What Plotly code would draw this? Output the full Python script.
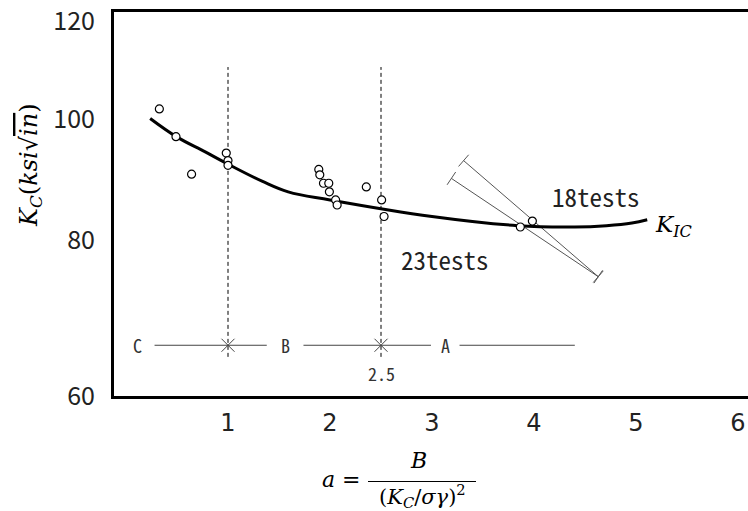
import math
import plotly.graph_objects as go

# ---------------- data ----------------
# smooth Kc trend curve (a, Kc)
curve_a = [0.237, 0.493, 0.777, 1.0, 1.339, 1.59, 2.0, 3.0, 3.84, 4.40, 4.71, 4.96, 5.11]
curve_kc = [100.2, 96.9, 94.2, 92.1, 89.2, 87.5, 86.2, 83.6, 82.2, 82.0, 82.2, 82.6, 83.1]

# individual test results
test_a = [0.327, 0.49, 0.643, 0.983, 1.0, 1.0, 1.89, 1.90, 1.936, 1.988, 1.994,
          2.055, 2.07, 2.356, 2.506, 2.53, 3.866, 3.984]
test_kc = [102.0, 96.9, 90.4, 94.0, 92.7, 91.9, 91.2, 90.3, 88.9, 88.9, 87.5,
           86.2, 85.4, 88.3, 86.2, 83.6, 82.0, 82.9]

# scatter bands of the two test series
band18_a = [3.31, 4.63]
band18_kc = [92.7, 74.8]
band23_a = [3.19, 4.63]
band23_kc = [89.7, 74.8]

# regime boundaries and regime names
zone_bounds = [1.0, 2.5]
zone_names = ["C", "B", "A"]
zone_name_a = [0.115, 1.566, 3.137]
zone_level_kc = 65.9
# dimension-line pieces between the regime labels
zone_segments = [(0.28, 1.0), (1.0, 1.38), (1.74, 2.5), (2.5, 2.99), (3.27, 4.40)]

x_ticks = [1, 2, 3, 4, 5, 6]
y_ticks = [60, 80, 100, 120]

# ---------------- layout geometry ----------------
W, H = 748, 511
ML, MR, MT, MB = 114, 0, 12, 115
PW, PH = W - ML - MR, H - MT - MB
X_RANGE = [-0.1176, 6.098]
Y_RANGE = [60.0, 122.0]
LY0, LY1 = math.log10(Y_RANGE[0]), math.log10(Y_RANGE[1])


def to_px(a, kc):
    x = (a - X_RANGE[0]) / (X_RANGE[1] - X_RANGE[0]) * PW
    y = (LY1 - math.log10(kc)) / (LY1 - LY0) * PH
    return x, y


def cap_angle(xs, ys):
    x0, y0 = to_px(xs[0], ys[0])
    x1, y1 = to_px(xs[1], ys[1])
    return math.degrees(math.atan2(y1 - y0, x1 - x0))


def paper_x(px):
    return (px - ML) / PW


def paper_y(py):
    return (MT + PH - py) / PH


MONO = "Noto Sans Mono CJK KR, DejaVu Sans Mono, monospace"
SERIF = "DejaVu Serif, serif"

fig = go.Figure()

# regime boundary lines
for b in zone_bounds:
    fig.add_trace(go.Scatter(
        x=[b, b], y=[64.5, 110.2], mode="lines",
        line=dict(color="black", width=1, dash="4px,3px"),
        hoverinfo="skip", showlegend=False))

# dimension line C | B | A
seg_x, seg_y = [], []
for x0, x1 in zone_segments:
    seg_x += [x0, x1, None]
    seg_y += [zone_level_kc, zone_level_kc, None]
fig.add_trace(go.Scatter(
    x=seg_x, y=seg_y, mode="lines",
    line=dict(color="#444444", width=1),
    hoverinfo="skip", showlegend=False))
fig.add_trace(go.Scatter(
    x=zone_bounds, y=[zone_level_kc] * len(zone_bounds), mode="markers",
    marker=dict(symbol="x-thin", size=13, line=dict(color="#444444", width=1)),
    hoverinfo="skip", showlegend=False))

# test bands with end caps
for xs, ys in [(band18_a, band18_kc), (band23_a, band23_kc)]:
    ang = cap_angle(xs, ys)
    fig.add_trace(go.Scatter(
        x=xs, y=ys, mode="lines+markers",
        line=dict(color="#555555", width=1),
        marker=dict(symbol="line-ns", size=11, angle=ang,
                    line=dict(color="#555555", width=1)),
        hoverinfo="skip", showlegend=False))

# trend curve
fig.add_trace(go.Scatter(
    x=curve_a, y=curve_kc, mode="lines",
    line=dict(color="black", width=3, shape="spline", smoothing=1.1),
    hoverinfo="skip", showlegend=False))

# test points
fig.add_trace(go.Scatter(
    x=test_a, y=test_kc, mode="markers",
    marker=dict(symbol="circle", size=8, color="white",
                line=dict(color="black", width=1.2)),
    showlegend=False))

annotations = []
ly = math.log10(zone_level_kc)
for name, xa in zip(zone_names, zone_name_a):
    annotations.append(dict(
        x=xa, y=ly, xref="x", yref="y", text=name, showarrow=False,
        font=dict(family=MONO, size=18, color="#333333")))

annotations.append(dict(
    x=zone_bounds[1], y=math.log10(62.6), xref="x", yref="y", text="2.5",
    showarrow=False, font=dict(family=MONO, size=18, color="#333333")))

annotations.append(dict(
    x=4.603, y=math.log10(86.8), xref="x", yref="y", text="18tests",
    showarrow=False, font=dict(family=MONO, size=25, color="#222222")))
annotations.append(dict(
    x=3.128, y=math.log10(77.3), xref="x", yref="y", text="23tests",
    showarrow=False, font=dict(family=MONO, size=25, color="#222222")))

annotations.append(dict(
    x=5.17, y=math.log10(82.2), xref="x", yref="y", xanchor="left",
    text="<i>K<sub>IC</sub></i>", showarrow=False,
    font=dict(family=SERIF, size=23, color="black")))

# axis titles
annotations.append(dict(
    x=paper_x(30), y=paper_y(165), xref="paper", yref="paper",
    xanchor="center", yanchor="middle", textangle=-90, showarrow=False,
    text="<i>K<sub>C</sub></i>(<i>ksi</i>√<span style='text-decoration:overline'><i>in</i></span>)",
    font=dict(family=SERIF, size=24, color="black")))

annotations.append(dict(
    x=paper_x(341.6), y=paper_y(479), xref="paper", yref="paper",
    xanchor="center", yanchor="middle",
    text="<i>a</i> =", showarrow=False,
    font=dict(family=SERIF, size=22, color="black")))
annotations.append(dict(
    x=paper_x(418.5), y=paper_y(460), xref="paper", yref="paper",
    xanchor="center", yanchor="middle",
    text="<i>B</i>", showarrow=False,
    font=dict(family=SERIF, size=22, color="black")))
annotations.append(dict(
    x=paper_x(422), y=paper_y(496), xref="paper", yref="paper",
    xanchor="center", yanchor="middle",
    text="(<i>K<sub>C</sub></i>/<i>σγ</i>)<sup>2</sup>", showarrow=False,
    font=dict(family=SERIF, size=21, color="black")))

shapes = [dict(
    type="line", xref="paper", yref="paper",
    x0=paper_x(368), x1=paper_x(476),
    y0=paper_y(481.5), y1=paper_y(481.5),
    line=dict(color="black", width=1.2))]

fig.update_layout(
    width=W, height=H,
    margin=dict(l=ML, r=MR, t=MT, b=MB, pad=0),
    paper_bgcolor="white", plot_bgcolor="white",
    showlegend=False,
    annotations=annotations,
    shapes=shapes,
)

fig.update_xaxes(
    range=X_RANGE, tickvals=x_ticks, ticks="",
    showline=True, linewidth=3, linecolor="black", mirror=True,
    showgrid=False, zeroline=False,
    tickfont=dict(family="DejaVu Sans", size=24, color="#222222"),
    ticklabelstandoff=3, ticklabeloverflow="allow")

fig.update_yaxes(
    type="log", range=[LY0, LY1], tickvals=y_ticks, ticks="",
    showline=True, linewidth=3, linecolor="black", mirror=False,
    showgrid=False, zeroline=False,
    tickfont=dict(family="Noto Sans CJK KR, Liberation Sans", size=25, color="#222222"),
    ticklabelstandoff=11, ticklabeloverflow="allow")

fig.write_html("out.html", config=dict(displayModeBar=False))
